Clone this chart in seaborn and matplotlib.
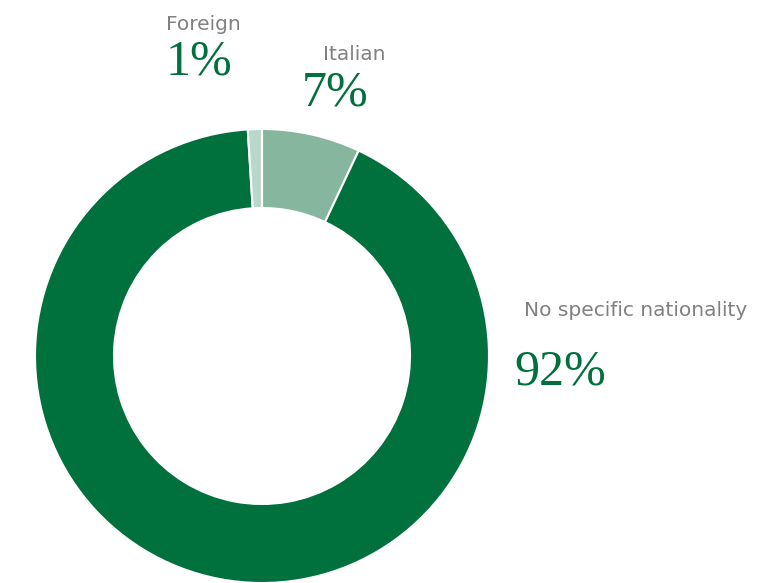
import matplotlib
matplotlib.use("Agg")
import matplotlib.pyplot as plt
import seaborn as sns

# Data
categories = ["Italian", "No specific nationality", "Foreign"]
shares = [7, 92, 1]
colors = ["#86b69d", "#00703c", "#b9d8c9"]

sns.set_theme(style="white")
plt.rcParams["font.family"] = ["DejaVu Sans"]

W, H = 779, 583
fig = plt.figure(figsize=(W / 100, H / 100), dpi=100)
ax = fig.add_axes([0, 0, 1, 1])

# donut, clockwise from the top (y measured upward in pixels)
ax.pie(shares, colors=colors, startangle=90, counterclock=False,
       center=(262, H - 356), radius=227, frame=True,
       wedgeprops=dict(width=79, edgecolor="white", linewidth=1.5))
ax.set_xlim(0, W)
ax.set_ylim(0, H)
ax.set_aspect("equal")
ax.axis("off")

# label layout (left x, name y, value y) measured from the top
label_pos = {
    "Foreign": (166, 24, 62),
    "Italian": (323, 55, 93),
    "No specific nationality": (524, 310, 372),
}
value_dx = {"Foreign": 0, "Italian": -21, "No specific nationality": -10}

for cat, val in zip(categories, shares):
    x, yl, yv = label_pos[cat]
    ax.text(x, H - yl, cat, fontsize=14.5, color="#808080", ha="left", va="center")
    ax.text(x + value_dx[cat], H - yv, f"{val}%", fontsize=36, color="#00703c",
            ha="left", va="center", family=["Liberation Serif", "DejaVu Serif"])

fig.savefig("out.png", dpi=100)
